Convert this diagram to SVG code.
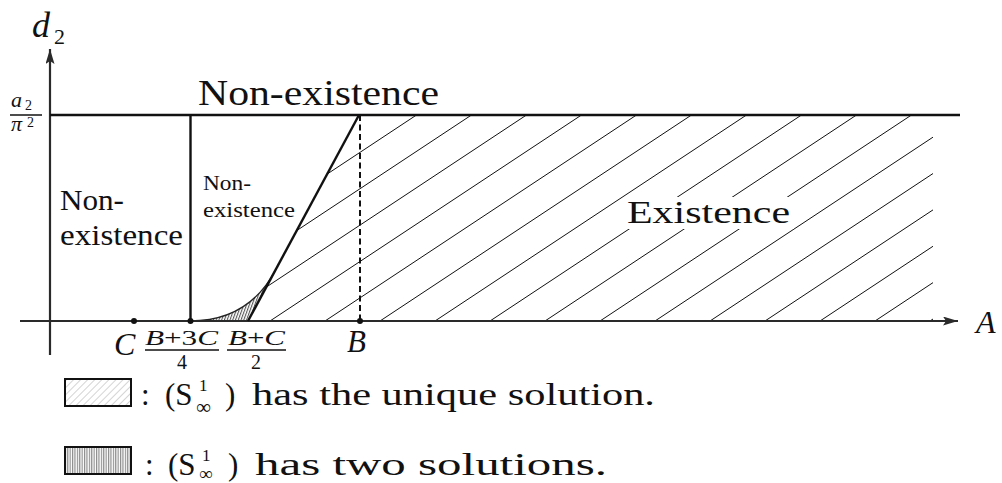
<svg xmlns="http://www.w3.org/2000/svg" width="1002" height="483" viewBox="0 0 1002 483" font-family="'Liberation Serif', 'DejaVu Serif', 'Times New Roman', serif">
<style>
text{font-family:'Liberation Serif','DejaVu Serif','Times New Roman',serif;fill:#111}
.i{font-style:italic}
.ax{stroke:#2a2a2a;stroke-width:2.2;fill:none}
.bd{stroke:#111;stroke-width:2.4;fill:none}
.h{stroke:#111;stroke-width:1;fill:none}
</style>
<defs>
<marker id="arr" viewBox="0 0 15 9" refX="15" refY="4.5" markerWidth="15" markerHeight="9" markerUnits="userSpaceOnUse" orient="auto">
<path d="M0,0 L15,4.5 L0,9 L3,4.5 Z" fill="#2a2a2a"/>
</marker>
<pattern id="dense" patternUnits="userSpaceOnUse" width="2.6" height="6" patternTransform="rotate(20)">
<line x1="0.6" y1="0" x2="0.6" y2="6" stroke="#333" stroke-width="0.9"/>
</pattern>
<pattern id="lightH" patternUnits="userSpaceOnUse" width="5" height="5" patternTransform="rotate(45)">
<line x1="0" y1="0" x2="0" y2="5" stroke="#aaa" stroke-width="1"/>
</pattern>
<pattern id="denseG" patternUnits="userSpaceOnUse" width="2.4" height="6">
<line x1="0.6" y1="0" x2="0.6" y2="6" stroke="#777" stroke-width="1"/>
</pattern>
<clipPath id="hclip"><polygon points="248,321 359,114 933,114 933,321"/></clipPath>
</defs>

<g id="hatch" clip-path="url(#hclip)" class="h">
<line x1="50" y1="321" x2="363" y2="114"/>
<line x1="105" y1="321" x2="418" y2="114"/>
<line x1="160" y1="321" x2="473" y2="114"/>
<line x1="215" y1="321" x2="528" y2="114"/>
<line x1="270" y1="321" x2="583" y2="114"/>
<line x1="325" y1="321" x2="638" y2="114"/>
<line x1="380" y1="321" x2="693" y2="114"/>
<line x1="435" y1="321" x2="748" y2="114"/>
<line x1="490" y1="321" x2="803" y2="114"/>
<line x1="545" y1="321" x2="858" y2="114"/>
<line x1="600" y1="321" x2="913" y2="114"/>
<line x1="655" y1="321" x2="968" y2="114"/>
<line x1="710" y1="321" x2="1023" y2="114"/>
<line x1="765" y1="321" x2="1078" y2="114"/>
<line x1="820" y1="321" x2="1133" y2="114"/>
<line x1="875" y1="321" x2="1188" y2="114"/>
<line x1="930" y1="321" x2="1243" y2="114"/>
</g>
<rect x="624" y="197" width="170" height="32" fill="#fff"/>

<g id="twoSolRegion">
<path d="M190,321 Q248,321 275,271 L248,321 Z" fill="url(#dense)" stroke="none"/>
<path d="M190,321 Q248,321 275,271" stroke="#222" stroke-width="1.3" fill="none"/>
</g>

<g id="axes">
<line x1="20" y1="321" x2="958" y2="321" class="ax" marker-end="url(#arr)"/>
<line x1="50" y1="355" x2="50" y2="49" class="ax" marker-end="url(#arr)"/>
</g>

<g id="boundaries">
<line x1="50" y1="115" x2="960" y2="115" class="bd"/>
<line x1="190.5" y1="115" x2="190.5" y2="321" class="bd"/>
<line x1="248" y1="321" x2="359" y2="115" class="bd"/>
<line x1="360" y1="115" x2="360" y2="321" stroke="#111" stroke-width="2" stroke-dasharray="6,3.5"/>
</g>

<g id="points" fill="#111">
<circle cx="134" cy="321" r="3"/>
<circle cx="190.5" cy="321" r="3"/>
<circle cx="360" cy="321" r="3"/>
</g>

<g id="labels">
<text class="i" x="32" y="37" font-size="36">d</text>
<text x="54" y="44" font-size="22">2</text>
<text class="i" x="11" y="107" font-size="22">a</text>
<text x="25" y="110" font-size="14">2</text>
<line x1="10" y1="115" x2="42" y2="115" stroke="#111" stroke-width="1.5"/>
<text class="i" x="11" y="131" font-size="22">π</text>
<text x="27" y="127" font-size="14">2</text>

<text x="198" y="105" font-size="35" textLength="241" lengthAdjust="spacingAndGlyphs">Non-existence</text>
<text x="60" y="210" font-size="29" textLength="64" lengthAdjust="spacingAndGlyphs">Non-</text>
<text x="60" y="245" font-size="29" textLength="123" lengthAdjust="spacingAndGlyphs">existence</text>
<text x="203" y="190" font-size="21" textLength="48" lengthAdjust="spacingAndGlyphs">Non-</text>
<text x="203" y="217" font-size="21" textLength="92" lengthAdjust="spacingAndGlyphs">existence</text>
<text x="627" y="223" font-size="32" textLength="163" lengthAdjust="spacingAndGlyphs">Existence</text>

<text class="i" x="976" y="333" font-size="32">A</text>
<text class="i" x="114" y="355" font-size="32">C</text>
<text class="i" x="347" y="352" font-size="31">B</text>

<text x="145" y="345" font-size="20" textLength="73" lengthAdjust="spacingAndGlyphs"><tspan class="i">B</tspan>+3<tspan class="i">C</tspan></text>
<line x1="145" y1="350" x2="219" y2="350" stroke="#111" stroke-width="1.4"/>
<text x="182" y="369" font-size="20" text-anchor="middle">4</text>
<text x="228" y="345" font-size="20" textLength="57" lengthAdjust="spacingAndGlyphs"><tspan class="i">B</tspan>+<tspan class="i">C</tspan></text>
<line x1="227" y1="350" x2="286" y2="350" stroke="#111" stroke-width="1.4"/>
<text x="256" y="369" font-size="20" text-anchor="middle">2</text>
</g>

<g id="legend-unique">
<rect x="65" y="379" width="66" height="27" fill="url(#lightH)" stroke="#111" stroke-width="2"/>
<text x="141" y="405" font-size="31">:</text>
<text x="165" y="405" font-size="31">(S</text>
<text x="199" y="391" font-size="17">1</text>
<text x="196" y="414" font-size="21">∞</text>
<text x="225" y="405" font-size="31">)</text>
<text x="252" y="405" font-size="31" textLength="403" lengthAdjust="spacingAndGlyphs">has the unique solution.</text>
</g>

<g id="legend-two">
<rect x="65" y="447" width="66" height="27" fill="url(#denseG)" stroke="#111" stroke-width="2"/>
<text x="145" y="475" font-size="31">:</text>
<text x="168" y="475" font-size="31">(S</text>
<text x="202" y="461" font-size="17">1</text>
<text x="199" y="480" font-size="19">∞</text>
<text x="228" y="475" font-size="31">)</text>
<text x="255" y="475" font-size="31" textLength="352" lengthAdjust="spacingAndGlyphs">has two solutions.</text>
</g>
</svg>
